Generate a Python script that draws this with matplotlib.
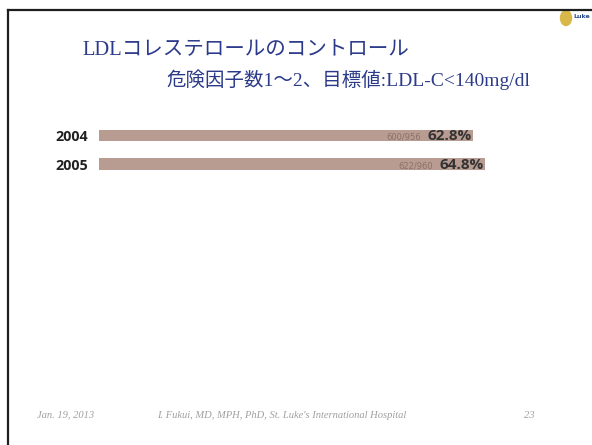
import matplotlib
matplotlib.use("Agg")
import matplotlib.pyplot as plt
from matplotlib.patches import Ellipse

# data
years = ["2004", "2005"]
pct = [62.8, 64.8]
counts = ["600/956", "622/960"]

title = "LDLコレステロールのコントロール"
subtitle = "危険因子数1〜2、目標値:LDL-C<140mg/dl"
footer_date = "Jan. 19, 2013"
footer_author = "I. Fukui, MD, MPH, PhD, St. Luke's International Hospital"
footer_page = "23"

W, H = 592, 445
NAVY = "#2c3a8a"
BAR = "#b89b91"
JP = ["Liberation Serif", "Noto Sans CJK JP"]

fig = plt.figure(figsize=(W / 100, H / 100), dpi=100)
fig.patch.set_facecolor("white")


def px(x, y):
    # pixel coords (from top-left) -> figure fraction
    return x / W, 1 - y / H


# slide frame (left + top edge of the scanned page)
fig.add_artist(plt.Line2D([8 / W, 8 / W], [0, 1 - 10 / H], color="#1e1e1e", lw=1.6))
fig.add_artist(plt.Line2D([8 / W, 1], [1 - 10 / H, 1 - 10 / H], color="#1e1e1e", lw=1.6))

# little crest top right
fig.add_artist(Ellipse(px(566, 18), 11 / W, 15 / H, color="#d9b84a", transform=fig.transFigure))
fig.text(*px(573, 16), "Luke", color="#2b4a8c", fontsize=4.5, fontweight="bold",
         ha="left", va="center", family="DejaVu Sans")

fig.text(*px(82, 50), title, color=NAVY, fontsize=14.8, ha="left", va="center", family=JP)
fig.text(*px(166, 80), subtitle, color=NAVY, fontsize=14, ha="left", va="center", family=JP)

# bars: axes spans x 99..592 px, 5.96 px per percent
ax = fig.add_axes([99 / W, 1 - 180 / H, (W - 99) / W, 60 / H])
ax.set_xlim(0, (W - 99) / 5.96)
ypos = list(range(len(years)))
ax.barh(ypos, pct, height=0.39, color=BAR)
ax.set_ylim(1.56, -0.54)
for y, p, c in zip(ypos, pct, counts):
    ax.text(p - 0.2, y + 0.03, f"{p:.1f}%", ha="right", va="center", fontsize=11,
            fontweight="bold", color="#333333", family="Open Sans")
    ax.text(p - 8.7, y + 0.06, c, ha="right", va="center", fontsize=6,
            color="#8c716a", family="DejaVu Sans")
ax.set_yticks(ypos)
ax.set_yticklabels(years, fontsize=10.3, fontweight="bold", color="#222222", family="Open Sans")
ax.tick_params(axis="y", length=0, pad=8)
ax.set_xticks([])
for s in ax.spines.values():
    s.set_visible(False)

# footer
ft = dict(fontsize=7.6, color="#a0a0a0", style="italic", family="Liberation Serif", va="center")
fig.text(*px(37, 415), footer_date, ha="left", **ft)
fig.text(*px(157, 415), footer_author, ha="left", **ft)
fig.text(*px(535, 415), footer_page, ha="right", **ft)

fig.savefig("out.png", dpi=100)
